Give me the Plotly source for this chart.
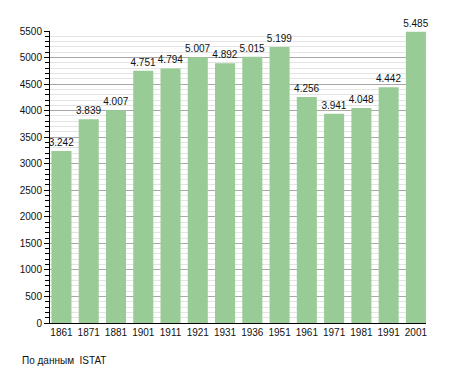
import plotly.graph_objects as go

years = ["1861", "1871", "1881", "1901", "1911", "1921", "1931", "1936",
         "1951", "1961", "1971", "1981", "1991", "2001"]
population = [3242, 3839, 4007, 4751, 4794, 5007, 4892, 5015,
              5199, 4256, 3941, 4048, 4442, 5485]
labels = [f"{v:,}".replace(",", ".") for v in population]

FONT = "Liberation Sans, Arial, sans-serif"

fig = go.Figure()
fig.add_trace(go.Bar(
    x=years, y=population,
    text=labels, textposition="outside", constraintext="none",
    textfont=dict(family=FONT, size=10, color="#111111"),
    marker=dict(color="#99cb96", line=dict(width=0)),
    width=0.735, cliponaxis=False, hoverinfo="skip",
))

fig.update_layout(
    width=447, height=365,
    margin=dict(l=42, r=29, t=23, b=49.5, autoexpand=False),
    paper_bgcolor="white", plot_bgcolor="white",
    showlegend=False,
    font=dict(family=FONT, size=10, color="#111111"),
    xaxis=dict(
        type="category", range=[-0.42, 13.37],
        showline=True, linecolor="black", linewidth=1,
        ticks="", showgrid=False, tickfont=dict(size=10),
    ),
    yaxis=dict(
        range=[0, 5500], dtick=500, tick0=0,
        showline=True, linecolor="black", linewidth=1,
        ticks="outside", ticklen=5, tickcolor="black",
        showgrid=True, gridcolor="#a8a8a8", gridwidth=1,
        zeroline=False, tickfont=dict(size=10),
        minor=dict(dtick=100, showgrid=True, gridcolor="#e4e4e4",
                   ticks="outside", ticklen=4, tickcolor="black"),
    ),
    annotations=[dict(
        text="По данным  ISTAT", xref="paper", yref="paper",
        x=-30 / 376, y=-38 / 292.5, xanchor="left", yanchor="middle",
        showarrow=False, font=dict(family=FONT, size=10, color="#111111"),
    )],
)

fig.write_html("out.html")
